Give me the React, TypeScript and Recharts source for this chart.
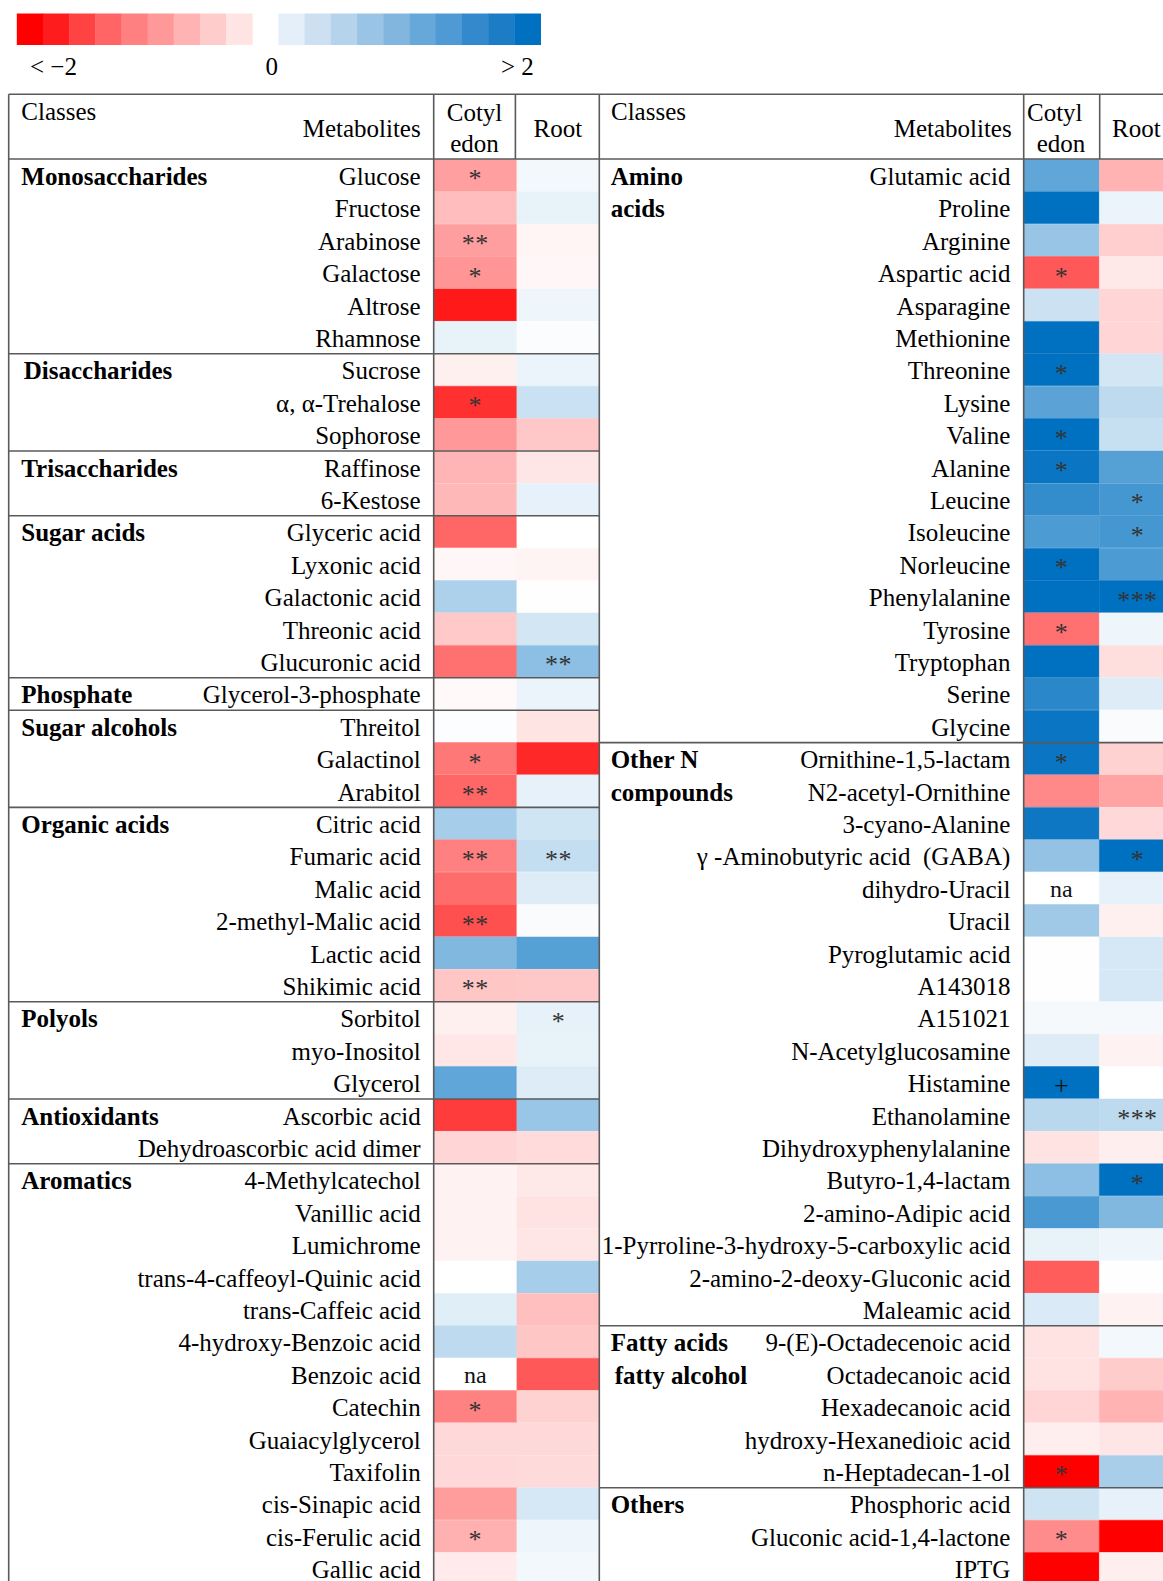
import React from 'react';
import { BarChart, Bar, XAxis, YAxis, Cell, LabelList } from 'recharts';

// ---- data (log2 fold change) ----
const leftMetabolites = [
  'Glucose', 'Fructose', 'Arabinose', 'Galactose', 'Altrose', 'Rhamnose',
  'Sucrose', 'α, α-Trehalose', 'Sophorose', 'Raffinose', '6-Kestose',
  'Glyceric acid', 'Lyxonic acid', 'Galactonic acid', 'Threonic acid', 'Glucuronic acid',
  'Glycerol-3-phosphate', 'Threitol', 'Galactinol', 'Arabitol',
  'Citric acid', 'Fumaric acid', 'Malic acid', '2-methyl-Malic acid', 'Lactic acid', 'Shikimic acid',
  'Sorbitol', 'myo-Inositol', 'Glycerol', 'Ascorbic acid', 'Dehydroascorbic acid dimer',
  '4-Methylcatechol', 'Vanillic acid', 'Lumichrome', 'trans-4-caffeoyl-Quinic acid', 'trans-Caffeic acid',
  '4-hydroxy-Benzoic acid', 'Benzoic acid', 'Catechin', 'Guaiacylglycerol', 'Taxifolin',
  'cis-Sinapic acid', 'cis-Ferulic acid', 'Gallic acid',
];
const leftCotyledon = [
  -0.75, -0.52, -0.76, -0.83, -1.8, 0.18, -0.12, -1.62, -0.8, -0.58, -0.56,
  -1.2, -0.06, 0.64, -0.42, -1.12, -0.05, 0.03, -1.06, -1.2, 0.7, -1.0,
  -1.15, -1.37, 1.0, -0.45, -0.12, -0.19, 1.25, -1.53, -0.33, -0.1, -0.1,
  -0.1, 0, 0.24, 0.52, null, -0.98, -0.3, -0.3, -0.78, -0.62, -0.16,
];
const leftRoot = [
  0.1, 0.18, -0.08, -0.06, 0.13, 0.04, 0.16, 0.42, -0.43, -0.2, 0.2,
  0, -0.09, 0.01, 0.35, 0.9, 0.16, -0.21, -1.69, 0.2, 0.37, 0.46,
  0.26, 0.05, 1.33, -0.43, 0.2, 0.18, 0.27, 0.8, -0.28, -0.18, -0.23,
  -0.2, 0.7, -0.5, -0.45, -1.31, -0.35, -0.3, -0.29, 0.32, 0.13, 0.1,
];
const leftCotyledonSig = [
  '*', '', '**', '*', '', '', '', '*', '', '', '',
  '', '', '', '', '', '', '', '*', '**', '', '**',
  '', '**', '', '**', '', '', '', '', '', '', '',
  '', '', '', '', 'na', '*', '', '', '', '*', '',
];
const leftRootSig = [
  '', '', '', '', '', '', '', '', '', '', '',
  '', '', '', '', '**', '', '', '', '', '', '**',
  '', '', '', '', '*', '', '', '', '', '', '',
  '', '', '', '', '', '', '', '', '', '', '',
];
const leftClasses = [
  { row: 0, label: 'Monosaccharides' },
  { row: 6, label: 'Disaccharides' },
  { row: 9, label: 'Trisaccharides' },
  { row: 11, label: 'Sugar acids' },
  { row: 16, label: 'Phosphate' },
  { row: 17, label: 'Sugar alcohols' },
  { row: 20, label: 'Organic acids' },
  { row: 26, label: 'Polyols' },
  { row: 29, label: 'Antioxidants' },
  { row: 31, label: 'Aromatics' },
];

const rightMetabolites = [
  'Glutamic acid', 'Proline', 'Arginine', 'Aspartic acid', 'Asparagine', 'Methionine',
  'Threonine', 'Lysine', 'Valine', 'Alanine', 'Leucine', 'Isoleucine', 'Norleucine',
  'Phenylalanine', 'Tyrosine', 'Tryptophan', 'Serine', 'Glycine',
  'Ornithine-1,5-lactam', 'N2-acetyl-Ornithine', '3-cyano-Alanine', 'γ -Aminobutyric acid  (GABA)',
  'dihydro-Uracil', 'Uracil', 'Pyroglutamic acid', 'A143018', 'A151021', 'N-Acetylglucosamine',
  'Histamine', 'Ethanolamine', 'Dihydroxyphenylalanine', 'Butyro-1,4-lactam', '2-amino-Adipic acid',
  '1-Pyrroline-3-hydroxy-5-carboxylic acid', '2-amino-2-deoxy-Gluconic acid', 'Maleamic acid',
  '9-(E)-Octadecenoic acid', 'Octadecanoic acid', 'Hexadecanoic acid', 'hydroxy-Hexanedioic acid',
  'n-Heptadecan-1-ol', 'Phosphoric acid', 'Gluconic acid-1,4-lactone', 'IPTG',
];
const rightCotyledon = [
  1.25, 2, 0.81, -1.31, 0.4, 2, 2, 1.29, 2, 1.92, 1.6,
  1.4, 2, 2, -1.12, 2, 1.67, 1.92, 1.92, -0.93, 1.9, 0.85,
  null, 0.75, 0.01, 0.01, 0.08, 0.27, 2, 0.55, -0.23, 0.9, 1.42,
  0.18, -1.28, 0.29, -0.23, -0.22, -0.33, -0.13, -2, 0.38, -0.9, -2,
];
const rightRoot = [
  -0.6, 0.16, -0.38, -0.18, -0.33, -0.33, 0.35, 0.52, 0.45, 1.33, 1.46,
  1.46, 1.4, 2, 0.13, -0.26, 0.26, 0.05, -0.35, -0.72, -0.3, 2,
  0.2, -0.12, 0.32, 0.32, 0.08, -0.1, 0, 0.52, -0.13, 2, 1.0,
  0.13, 0.01, -0.1, 0.1, -0.4, -0.6, -0.2, 0.68, 0.2, -2, -0.13,
];
const rightCotyledonSig = [
  '', '', '', '*', '', '', '*', '', '*', '*', '',
  '', '*', '', '*', '', '', '', '*', '', '', '',
  'na', '', '', '', '', '', '+', '', '', '', '',
  '', '', '', '', '', '', '', '*', '', '*', '',
];
const rightRootSig = [
  '', '', '', '', '', '', '', '', '', '', '*',
  '*', '', '***', '', '', '', '', '', '', '', '*',
  '', '', '', '', '', '', '', '***', '', '*', '',
  '', '', '', '', '', '', '', '', '', '', '',
];
const rightClasses = [
  { row: 0, label: 'Amino' },
  { row: 1, label: 'acids', cont: true },
  { row: 18, label: 'Other N' },
  { row: 19, label: 'compounds', cont: true },
  { row: 36, label: 'Fatty acids' },
  { row: 37, label: 'fatty alcohol', cont: true },
  { row: 41, label: 'Others' },
];

const legendReds = ['#FF0000', '#FF1C1C', '#FF4242', '#FF6565', '#FF8080', '#FF9999', '#FFB3B3', '#FFCCCC', '#FFE4E4'];
const legendBlues = ['#E4EFF9', '#CCE0F2', '#B5D4EC', '#99C4E5', '#82B6DF', '#66A8DA', '#4F99D4', '#3389CC', '#1C7CC5', '#0070C0'];

// ---- layout ----
const FONT = "'Liberation Serif', 'Times New Roman', serif";
const ROW_H = 32.4;
const BODY_TOP = 159.4;
const CHART_H = BODY_TOP + 44 * ROW_H;
const LINE = '#5a5a5a';

const heatColor = (v: number | null) => {
  if (v === null || v === undefined) return '#ffffff';
  const t = Math.min(Math.abs(v) / 2, 1);
  if (v < 0) {
    const g = Math.round(255 * (1 - t));
    return `rgb(255,${g},${g})`;
  }
  return `rgb(${Math.round(255 * (1 - t))},${Math.round(255 - 143 * t)},${Math.round(255 - 63 * t)})`;
};

const buildRows = (names: string[], cot: (number | null)[], root: (number | null)[], cotSig: string[], rootSig: string[]) =>
  names.map((name, i) => ({
    name,
    cotyledon: 1,
    root: 1,
    cotVal: cot[i],
    rootVal: root[i],
    cotSig: cotSig[i],
    rootSig: rootSig[i],
  }));

const SigLabel = (props: any) => {
  const { x, y, width, height, value } = props;
  if (!value) return null;
  const cx = x + width / 2;
  const cy = y + height / 2;
  if (value === 'na') {
    return <text x={cx} y={cy + 9} textAnchor="middle" fontFamily={FONT} fontSize={24} fill="#111">na</text>;
  }
  if (value === '+') {
    return <text x={cx} y={cy + 11} textAnchor="middle" fontFamily={FONT} fontSize={26} fill="#111">+</text>;
  }
  return (
    <text x={cx} y={cy + 12} textAnchor="middle" fontFamily={FONT} fontSize={26} fill="#333" letterSpacing={0.5}>
      {value}
    </text>
  );
};

type HalfProps = {
  rows: any[];
  classes: { row: number; label: string; cont?: boolean }[];
  left: number;
  axisWidth: number;
  colWidth: number;
  classX: number;
  lineX0: number;
};

const HeatHalf = ({ rows, classes, left, axisWidth, colWidth, classX, lineX0 }: HalfProps) => {
  const width = axisWidth + 2 * colWidth;
  const NameTick = (p: any) => {
    const { x, y, payload } = p;
    const idx = payload.index;
    const cls = classes.find((c) => c.row === idx);
    const half = payload.offset || ROW_H / 2;
    const sep = cls && idx > 0 && !cls.cont;
    return (
      <g>
        {sep && <line x1={lineX0} x2={width} y1={y - half} y2={y - half} stroke={LINE} strokeWidth={1.6} />}
        {cls && (
          <text x={classX + (cls.label === 'Disaccharides' ? 2.5 : cls.label === 'fatty alcohol' ? 4 : 0)} y={y + 9.5}
            fontFamily={FONT} fontSize={25} fontWeight="bold" fill="#000">
            {cls.label}
          </text>
        )}
        <text x={x} y={y + 9.5} textAnchor="end" fontFamily={FONT} fontSize={25} fill="#000" style={{ whiteSpace: 'pre' }}>
          {payload.value}
        </text>
      </g>
    );
  };
  return (
    <div style={{ position: 'absolute', left, top: 0 }}>
      <BarChart width={width} height={CHART_H} data={rows} layout="vertical"
        margin={{ top: BODY_TOP, right: 0, bottom: 0, left: 0 }} barCategoryGap={0} barGap={0}>
        <XAxis type="number" domain={[0, 2]} hide />
        <Bar dataKey="cotyledon" stackId="t" isAnimationActive={false}>
          {rows.map((r, i) => (
            <Cell key={`c${i}`} fill={heatColor(r.cotVal)} stroke={heatColor(r.cotVal)} strokeWidth={0.5} />
          ))}
          <LabelList dataKey="cotSig" content={SigLabel} />
        </Bar>
        <Bar dataKey="root" stackId="t" isAnimationActive={false}>
          {rows.map((r, i) => (
            <Cell key={`r${i}`} fill={heatColor(r.rootVal)} stroke={heatColor(r.rootVal)} strokeWidth={0.5} />
          ))}
          <LabelList dataKey="rootSig" content={SigLabel} />
        </Bar>
        <YAxis type="category" dataKey="name" width={axisWidth} axisLine={false} tickLine={false}
          tickSize={0} tickMargin={13} interval={0} tick={NameTick} />
      </BarChart>
    </div>
  );
};

const leftRows = buildRows(leftMetabolites, leftCotyledon, leftRoot, leftCotyledonSig, leftRootSig);
const rightRows = buildRows(rightMetabolites, rightCotyledon, rightRoot, rightCotyledonSig, rightRootSig);

const txt = { fontFamily: FONT, fontSize: 25, fill: '#000' } as const;

const App = () => {
  return (
    <div style={{ position: 'absolute', left: 0, top: 0, width: 1163, height: 1581, overflow: 'hidden', background: '#fff' }}>
      <HeatHalf rows={leftRows} classes={leftClasses} left={0} axisWidth={433.7} colWidth={83.2} classX={21.3} lineX0={8.7} />
      <HeatHalf rows={rightRows} classes={rightClasses} left={599.3} axisWidth={424.4} colWidth={76} classX={11.7} lineX0={0} />

      <svg width={1163} height={1581} style={{ position: 'absolute', left: 0, top: 0, pointerEvents: 'none' }}>
        {/* legend */}
        {legendReds.map((c, i) => (
          <rect key={`lr${i}`} x={16.8 + i * 26.16} y={13.5} width={26.6} height={31.5} fill={c} />
        ))}
        {legendBlues.map((c, i) => (
          <rect key={`lb${i}`} x={278.4 + i * 26.22} y={13.5} width={26.6} height={31.5} fill={c} />
        ))}
        <text x={30} y={75} {...txt}>{'< −2'}</text>
        <text x={265.5} y={75} {...txt}>0</text>
        <text x={501} y={75} {...txt}>{'> 2'}</text>

        {/* table rules */}
        <g stroke={LINE} strokeWidth={1.6}>
          <line x1={8.7} x2={1163} y1={94.3} y2={94.3} />
          <line x1={8.7} x2={1163} y1={159} y2={159} />
          <line x1={8.7} x2={8.7} y1={94.3} y2={1581} />
          <line x1={433.7} x2={433.7} y1={94.3} y2={1581} />
          <line x1={515.4} x2={515.4} y1={94.3} y2={159} />
          <line x1={599.3} x2={599.3} y1={94.3} y2={1581} />
          <line x1={1023.7} x2={1023.7} y1={94.3} y2={1581} />
          <line x1={1099.7} x2={1099.7} y1={94.3} y2={159} />
        </g>

        {/* header */}
        <text x={21.3} y={120} {...txt}>Classes</text>
        <text x={420.7} y={137} textAnchor="end" {...txt}>Metabolites</text>
        <text x={474.5} y={121} textAnchor="middle" {...txt}>Cotyl</text>
        <text x={474.5} y={152} textAnchor="middle" {...txt}>edon</text>
        <text x={557.8} y={137} textAnchor="middle" {...txt}>Root</text>

        <text x={611} y={120} {...txt}>Classes</text>
        <text x={1011.7} y={137} textAnchor="end" {...txt}>Metabolites</text>
        <text x={1027} y={121} {...txt}>Cotyl</text>
        <text x={1061} y={152} textAnchor="middle" {...txt}>edon</text>
        <text x={1112} y={137} {...txt}>Root</text>
      </svg>
    </div>
  );
};

export default App;
